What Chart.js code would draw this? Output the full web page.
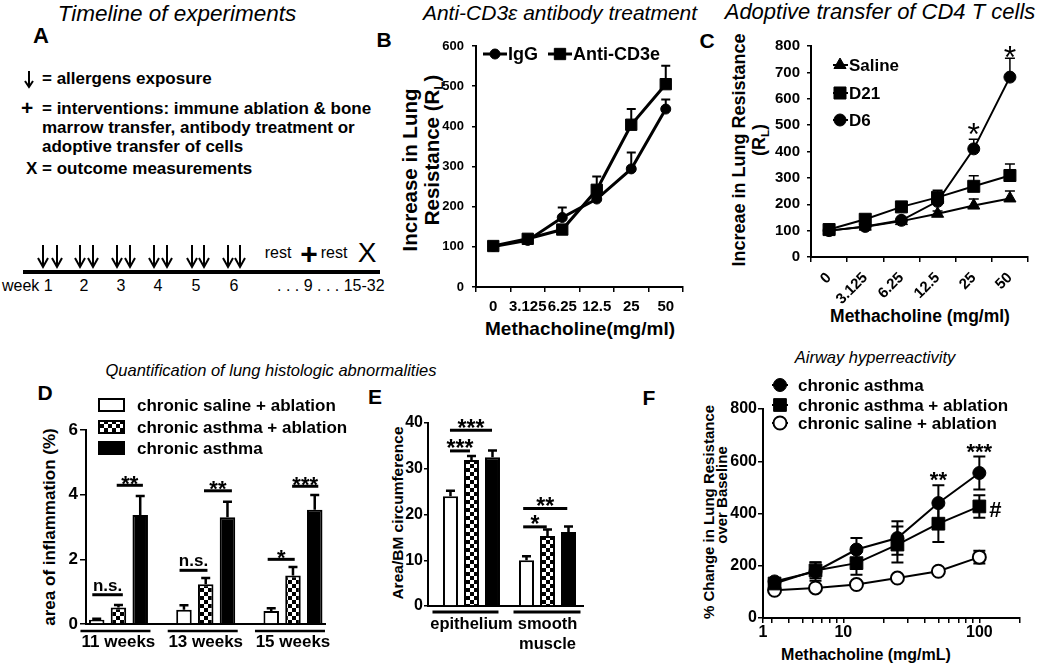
<!DOCTYPE html>
<html><head><meta charset="utf-8">
<script src="https://cdn.jsdelivr.net/npm/chart.js@4.4.1/dist/chart.umd.min.js"></script>
<style>
body{margin:0;background:#fff;width:1050px;height:664px;position:relative;overflow:hidden;font-family:'Liberation Sans',Arial,sans-serif;color:#000}
canvas{position:absolute}
.t{position:absolute;white-space:nowrap;line-height:1}
.c{transform:translate(-50%,-50%)}
.l{transform:translate(0,-50%)}
.v{transform:translate(-50%,-50%) rotate(-90deg)}
.b{font-weight:bold}
.i{font-style:italic}
.sub{font-size:.65em;position:relative;top:.3em}
</style></head><body>

<!-- titles -->
<div class="t c i" style="left:177px;top:14px;font-size:22.5px">Timeline of experiments</div>
<div class="t c i" style="left:560px;top:12px;font-size:21px">Anti-CD3ε antibody treatment</div>
<div class="t c i" style="left:880px;top:12px;font-size:22px">Adoptive transfer of CD4 T cells</div>
<div class="t c i" style="left:271px;top:370px;font-size:16.5px">Quantification of lung histologic abnormalities</div>
<div class="t c i" style="left:875px;top:357px;font-size:16.5px">Airway hyperreactivity</div>

<!-- panel letters -->
<div class="t c b" style="left:41px;top:36px;font-size:22px">A</div>
<div class="t c b" style="left:384px;top:39px;font-size:21px">B</div>
<div class="t c b" style="left:707px;top:40px;font-size:21px">C</div>
<div class="t c b" style="left:45px;top:392px;font-size:21px">D</div>
<div class="t c b" style="left:375px;top:396px;font-size:21px">E</div>
<div class="t c b" style="left:649px;top:397px;font-size:21px">F</div>

<!-- panel A -->
<svg style="position:absolute;left:0;top:0" width="400" height="300">
  <g stroke="#000" stroke-width="2" fill="none">
    <path d="M29 71 V87 M25 81 L29 87 L33 81"/>
    <path d="M43 245 V267 M38 258 L43 267 L48 258"/><path d="M57 245 V267 M52 258 L57 267 L62 258"/>
    <path d="M80 245 V267 M75 258 L80 267 L85 258"/><path d="M93 245 V267 M88 258 L93 267 L98 258"/>
    <path d="M117 245 V267 M112 258 L117 267 L122 258"/><path d="M130 245 V267 M125 258 L130 267 L135 258"/>
    <path d="M154 245 V267 M149 258 L154 267 L159 258"/><path d="M167 245 V267 M162 258 L167 267 L172 258"/>
    <path d="M192 245 V267 M187 258 L192 267 L197 258"/><path d="M204 245 V267 M199 258 L204 267 L209 258"/>
    <path d="M228 245 V267 M223 258 L228 267 L233 258"/><path d="M240 245 V267 M235 258 L240 267 L245 258"/>
  </g>
  <rect x="23" y="270" width="357" height="4" fill="#000"/>
</svg>
<div class="t l b" style="left:42px;top:78px;font-size:17px">= allergens exposure</div>
<div class="t l b" style="left:21px;top:107px;font-size:21px">+</div>
<div class="t l b" style="left:42px;top:108px;font-size:17px">= interventions: immune ablation &amp; bone</div>
<div class="t l b" style="left:42px;top:127px;font-size:17px">marrow transfer, antibody treatment or</div>
<div class="t l b" style="left:42px;top:146px;font-size:17px">adoptive transfer of cells</div>
<div class="t l b" style="left:26px;top:168px;font-size:17px">X = outcome measurements</div>
<div class="t c" style="left:278px;top:253px;font-size:16px">rest</div>
<div class="t c b" style="left:309px;top:254px;font-size:30px">+</div>
<div class="t c" style="left:334px;top:253px;font-size:16px">rest</div>
<div class="t c" style="left:367px;top:253px;font-size:28px">X</div>
<div class="t l" style="left:2px;top:286px;font-size:16px">week 1</div>
<div class="t c" style="left:84px;top:286px;font-size:16px">2</div>
<div class="t c" style="left:121px;top:286px;font-size:16px">3</div>
<div class="t c" style="left:158px;top:286px;font-size:16px">4</div>
<div class="t c" style="left:196px;top:286px;font-size:16px">5</div>
<div class="t c" style="left:234px;top:286px;font-size:16px">6</div>
<div class="t l" style="left:277px;top:286px;font-size:16px">. . . 9 . . . 15-32</div>

<!-- axis titles -->
<div class="t v b" style="left:410px;top:170px;font-size:20.5px">Increase in Lung</div>
<div class="t v b" style="left:432px;top:150px;font-size:20.5px">Resistance (R<span class="sub">L</span>)</div>
<div class="t c b" style="left:580px;top:328px;font-size:19px">Methacholine(mg/ml)</div>
<div class="t v b" style="left:739px;top:150px;font-size:18px">Increae in Lung Resistance</div>
<div class="t v b" style="left:759px;top:140px;font-size:18px">(R<span class="sub">L</span>)</div>
<div class="t c b" style="left:920px;top:317px;font-size:17.5px">Methacholine (mg/ml)</div>
<div class="t v b" style="left:49px;top:527px;font-size:17px">area of inflammation (%)</div>
<div class="t v b" style="left:398px;top:513px;font-size:15.5px">Area/BM circumference</div>
<div class="t v b" style="left:708px;top:512px;font-size:15px">% Change in Lung Resistance</div>
<div class="t v b" style="left:721px;top:495px;font-size:15px">over Baseline</div>
<div class="t c b" style="left:866px;top:655px;font-size:16px">Methacholine (mg/mL)</div>

<canvas id="cB" width="310" height="320" style="left:390px;top:30px"></canvas>
<canvas id="cC" width="350" height="320" style="left:700px;top:30px"></canvas>
<canvas id="cD" width="368" height="284" style="left:0px;top:380px"></canvas>
<canvas id="cE" width="240" height="284" style="left:370px;top:380px"></canvas>
<canvas id="cF" width="350" height="304" style="left:700px;top:360px"></canvas>

<script>
// ---------------- data ----------------
const bCats = ['0', '3.125', '6.25', '12.5', '25', '50'];
const bIgG = [101, 116, 173, 219, 294, 443];
const bIgGErr = [0, 0, 25, 0, 41, 24];
const bCD3 = [102, 120, 143, 242, 404, 505];
const bCD3Err = [0, 0, 0, 33, 39, 46];

const cCats = ['0', '3.125', '6.25', '12.5', '25', '50'];
const cSaline = [100, 115, 136, 164, 195, 222];
const cSalineErr = [0, 0, 6, 10, 25, 28];
const cD21 = [104, 143, 190, 226, 268, 309];
const cD21Err = [0, 0, 0, 27, 40, 44];
const cD6 = [100, 116, 139, 211, 410, 682];
const cD6Err = [0, 0, 0, 0, 36, 72];
const cStars = [{ x: 4, y: 493, text: '*' }, { x: 5, y: 785, text: '*' }];

const dCats = ['11 weeks', '13 weeks', '15 weeks'];
const dSalineAbl = [0.13, 0.44, 0.40];
const dSalineAblErr = [0.03, 0.14, 0.09];
const dAsthmaAbl = [0.51, 1.23, 1.50];
const dAsthmaAblErr = [0.08, 0.19, 0.26];
const dAsthma = [3.37, 3.30, 3.53];
const dAsthmaErr = [0.59, 0.48, 0.46];
const dSig = [
  { x1: -0.30, x2: 0.05, y: 0.905, text: 'n.s.' },
  { x1: -0.02, x2: 0.28, y: 4.29, text: '**' },
  { x1: 0.70, x2: 1.02, y: 1.66, text: 'n.s.' },
  { x1: 0.98, x2: 1.30, y: 4.12, text: '**' },
  { x1: 1.71, x2: 2.02, y: 2.0, text: '*' },
  { x1: 1.99, x2: 2.29, y: 4.26, text: '***' }
];

const eCats = ['epithelium', ['smooth', 'muscle']];
const eSalineAbl = [24.0, 10.0];
const eSalineAblErr = [1.2, 0.9];
const eAsthmaAbl = [31.9, 15.3];
const eAsthmaAblErr = [0.9, 1.4];
const eAsthma = [32.5, 16.2];
const eAsthmaErr = [1.5, 1.2];
const eSig = [
  { x1: -0.283, x2: 0.27, y: 38.4, text: '***' },
  { x1: -0.283, x2: -0.02, y: 33.9, text: '***' },
  { x1: 0.68, x2: 1.26, y: 21.3, text: '**' },
  { x1: 0.68, x2: 0.99, y: 17.3, text: '*' }
];

const fDoses = [3.125, 6.25, 12.5, 25, 50, 100];
const fAsthma = [140, 178, 262, 306, 440, 555];
const fAsthmaErr = [10, 35, 44, 64, 68, 63];
const fAsthmaAbl = [132, 182, 210, 281, 361, 427];
const fAsthmaAblErr = [8, 30, 44, 69, 70, 43];
const fSalineAbl = [106, 115, 128, 153, 179, 233];
const fSalineAblErr = [5, 8, 8, 8, 8, 24];
const fMin = 2.57, fMax = 199;
const fTickValues = [3, 4, 5, 6, 7, 8, 9, 10, 20, 30, 40, 50, 60, 70, 80, 90, 100];
const fTickLabels = ['1', '10', '100'];
const fLabelAt = [fMin, 10, 100];
const fMarks = [{ x: 50, y: 551, text: '**' }, { x: 100, y: 655, text: '***' }, { x: 131, y: 417, text: '#' }];

// ---------------- setup ----------------
const FONT = "'Liberation Sans', Arial, sans-serif";
Chart.defaults.font.family = FONT;
Chart.defaults.font.weight = 'bold';
Chart.defaults.color = '#000';

const checker = (() => {
  const c = document.createElement('canvas'); c.width = 8; c.height = 8;
  const g = c.getContext('2d');
  g.fillStyle = '#fff'; g.fillRect(0, 0, 8, 8);
  g.fillStyle = '#000'; g.fillRect(0, 0, 4, 4); g.fillRect(4, 4, 4, 4);
  return g.createPattern(c, 'repeat');
})();

const errorBars = {
  id: 'errorBars',
  beforeDatasetsDraw(chart, args, o) {
    const ctx = chart.ctx, ys = chart.scales.y;
    ctx.save();
    ctx.strokeStyle = '#000';
    ctx.lineWidth = o.lineWidth || 2;
    chart.data.datasets.forEach((ds, i) => {
      if (!ds.errUp) return;
      const meta = chart.getDatasetMeta(i);
      meta.data.forEach((el, j) => {
        const v = meta.controller.getParsed(j).y;
        const up = ds.errUp[j] || 0;
        const dn = ds.errBoth ? up : 0;
        if (!up) return;
        const x = el.x, h = o.cap / 2;
        const yT = ys.getPixelForValue(v + up), yB = ys.getPixelForValue(v - dn);
        ctx.beginPath();
        ctx.moveTo(x, yB); ctx.lineTo(x, yT);
        ctx.moveTo(x - h, yT); ctx.lineTo(x + h, yT);
        if (dn) { ctx.moveTo(x - h, yB); ctx.lineTo(x + h, yB); }
        ctx.stroke();
      });
    });
    ctx.restore();
  }
};

function textBase(t, py, size) {
  if (t[0] === '*') return py + 0.57 * size;
  return py + 0.36 * size;
}

const annot = {
  id: 'annot',
  afterDatasetsDraw(chart, args, o) {
    const ctx = chart.ctx, xs = chart.scales.x, ys = chart.scales.y;
    ctx.save();
    ctx.fillStyle = '#000'; ctx.strokeStyle = '#000';
    ctx.textAlign = 'center'; ctx.textBaseline = 'alphabetic';
    (o.lines || []).forEach(l => {
      const x1 = xs.getPixelForValue(l.x1), x2 = xs.getPixelForValue(l.x2), y = ys.getPixelForValue(l.y);
      ctx.lineWidth = o.lineWidth;
      ctx.beginPath(); ctx.moveTo(x1, y); ctx.lineTo(x2, y); ctx.stroke();
      const star = l.text[0] === '*';
      ctx.font = `bold ${star ? o.starSize : o.textSize}px ${FONT}`;
      ctx.fillText(l.text, (x1 + x2) / 2, star ? y + o.starSize * 0.24 : y - 4);
    });
    (o.marks || []).forEach(m => {
      ctx.font = `${o.markWeight || 'bold'} ${o.markSize}px ${FONT}`;
      const px = xs.getPixelForValue(m.x), py = ys.getPixelForValue(m.y);
      ctx.fillText(m.text, px, textBase(m.text, py, o.markSize));
    });
    if (o.brackets) {
      ctx.lineWidth = o.brackets.w;
      const y = chart.chartArea.bottom + o.brackets.dy;
      xs.ticks.forEach((tk, i) => {
        const px = xs.getPixelForValue(tk.value);
        ctx.beginPath(); ctx.moveTo(px + o.brackets.l[i], y); ctx.lineTo(px + o.brackets.r[i], y); ctx.stroke();
      });
    }
    ctx.restore();
  }
};

const customLegend = {
  id: 'customLegend',
  afterDraw(chart, args, o) {
    if (!o.items) return;
    const ctx = chart.ctx;
    ctx.save();
    ctx.font = `bold ${o.size}px ${FONT}`;
    ctx.textBaseline = 'middle'; ctx.textAlign = 'left';
    o.items.forEach(it => {
      const ds = chart.data.datasets[it.ds];
      if (o.kind === 'line') {
        ctx.strokeStyle = '#000'; ctx.lineWidth = ds.borderWidth;
        ctx.beginPath(); ctx.moveTo(it.x + o.l1, it.y); ctx.lineTo(it.x + o.l2, it.y); ctx.stroke();
        ctx.fillStyle = ds.pointBackgroundColor; ctx.strokeStyle = ds.pointBorderColor; ctx.lineWidth = ds.pointBorderWidth;
        Chart.helpers.drawPoint(ctx, { pointStyle: ds.pointStyle, radius: ds.pointRadius, rotation: 0, borderWidth: ds.pointBorderWidth }, it.x, it.y);
        ctx.fillStyle = '#000';
        ctx.fillText(ds.label, it.x + o.tx, it.y + 1);
      } else {
        ctx.fillStyle = ds.backgroundColor;
        ctx.fillRect(it.x, it.y - o.bh / 2, o.bw, o.bh);
        ctx.strokeStyle = '#000'; ctx.lineWidth = 2;
        ctx.strokeRect(it.x, it.y - o.bh / 2, o.bw, o.bh);
        ctx.fillStyle = '#000';
        ctx.fillText(ds.label, it.x + o.tx, it.y + 1);
      }
    });
    ctx.restore();
  }
};

function yAxis(o) {
  return {
    type: 'linear', min: o.min, max: o.max,
    ticks: { stepSize: o.step, font: { size: o.size, weight: 'bold' }, color: '#000', padding: o.pad },
    grid: { display: true, drawOnChartArea: false, drawTicks: true, tickLength: o.tl, color: '#000', lineWidth: 1.5 },
    border: { display: true, color: '#000', width: 2 },
    afterFit: s => { s.width = o.w; }
  };
}
function catX(o) {
  return {
    type: 'category', offset: true,
    ticks: { font: { size: o.size, weight: 'bold' }, color: '#000', padding: o.pad, autoSkip: false, maxRotation: o.rot, minRotation: o.rot },
    grid: { display: true, drawOnChartArea: false, drawTicks: true, tickLength: 5, offset: true, color: '#000', lineWidth: 1.5 },
    border: { display: true, color: '#000', width: 2 },
    afterFit: s => { s.height = o.h; }
  };
}
function groupX(o) {
  return {
    type: 'linear', offset: false, min: o.min, max: o.max,
    afterBuildTicks: s => { s.ticks = o.cats.map((c, i) => ({ value: i })); },
    ticks: { font: { size: o.size, weight: 'bold' }, color: '#000', padding: o.pad, autoSkip: false, maxRotation: 0, minRotation: 0,
      callback: v => o.cats[Math.round(v)] },
    grid: { display: false, drawTicks: false },
    border: { display: true, color: '#000', width: 2 },
    afterFit: s => { s.height = o.h; }
  };
}
function lineDs(label, data, err, style, r, width, fill) {
  return { label, data, errUp: err, borderColor: '#000', borderWidth: width, pointStyle: style, pointRadius: r,
    pointBackgroundColor: fill || '#000', pointBorderColor: '#000', pointBorderWidth: fill ? 2 : 1, tension: 0, clip: false };
}
function barDs(label, vals, err, bg) {
  return { label, data: vals.map((v, i) => ({ x: i, y: v })), errUp: err, backgroundColor: bg, borderColor: '#000', borderWidth: 2 };
}
const common = { responsive: false, animation: false, devicePixelRatio: 1, events: [] };
const noLegend = { legend: { display: false }, tooltip: { enabled: false } };

// ---------------- B ----------------
new Chart(document.getElementById('cB'), {
  type: 'line',
  data: { labels: bCats, datasets: [
    lineDs('IgG', bIgG, bIgGErr, 'circle', 5, 3),
    lineDs('Anti-CD3e', bCD3, bCD3Err, 'rect', 8, 3)
  ] },
  options: { ...common,
    layout: { padding: { left: 0, top: 16, right: 17, bottom: 0 } },
    scales: {
      x: catX({ size: 15, pad: 6, rot: 0, h: 63 }),
      y: yAxis({ min: 0, max: 600, step: 100, size: 13, pad: 8, tl: 4, w: 86 })
    },
    plugins: { ...noLegend,
      errorBars: { cap: 9, lineWidth: 2 },
      customLegend: { kind: 'line', size: 18, l1: -12, l2: 12, tx: 13,
        items: [{ ds: 0, x: 105, y: 24 }, { ds: 1, x: 170, y: 24 }] }
    }
  },
  plugins: [errorBars, customLegend]
});

// ---------------- C ----------------
new Chart(document.getElementById('cC'), {
  type: 'line',
  data: { labels: cCats, datasets: [
    lineDs('Saline', cSaline, cSalineErr, 'triangle', 7, 2),
    lineDs('D21', cD21, cD21Err, 'rect', 8.5, 2),
    lineDs('D6', cD6, cD6Err, 'circle', 6, 2)
  ] },
  options: { ...common,
    layout: { padding: { left: 0, top: 13, right: 22, bottom: 0 } },
    scales: {
      x: catX({ size: 15, pad: 7, rot: 45, h: 93 }),
      y: yAxis({ min: 0, max: 800, step: 100, size: 15, pad: 7, tl: 4, w: 111 })
    },
    plugins: { ...noLegend,
      errorBars: { cap: 10, lineWidth: 1.5 },
      annot: { marks: cStars, markSize: 32, markWeight: 'normal' },
      customLegend: { kind: 'line', size: 17, l1: -7, l2: 8, tx: 9,
        items: [{ ds: 0, x: 140, y: 35 }, { ds: 1, x: 140, y: 63 }, { ds: 2, x: 140, y: 90 }] }
    }
  },
  plugins: [errorBars, annot, customLegend]
});

// ---------------- D ----------------
new Chart(document.getElementById('cD'), {
  type: 'bar',
  data: { datasets: [
    barDs('chronic saline + ablation', dSalineAbl, dSalineAblErr, '#fff'),
    barDs('chronic asthma + ablation', dAsthmaAbl, dAsthmaAblErr, checker),
    barDs('chronic asthma', dAsthma, dAsthmaErr, '#000')
  ] },
  options: { ...common,
    categoryPercentage: 0.748, barPercentage: 0.713,
    layout: { padding: { left: 0, top: 50, right: 43, bottom: 0 } },
    scales: {
      x: groupX({ min: -0.372, max: 2.367, cats: dCats, size: 17, pad: 8, h: 40 }),
      y: yAxis({ min: 0, max: 6, step: 2, size: 17, pad: 2, tl: 6, w: 86 })
    },
    plugins: { ...noLegend,
      errorBars: { cap: 9, lineWidth: 2.5 },
      annot: { lines: dSig, lineWidth: 3, textSize: 17, starSize: 22,
        brackets: { dy: 7, w: 2.5, l: [-38, -38, -38], r: [32, 32, 32] } },
      customLegend: { kind: 'box', size: 17, bw: 25, bh: 12, tx: 38,
        items: [{ ds: 0, x: 99, y: 25 }, { ds: 1, x: 99, y: 47 }, { ds: 2, x: 99, y: 68 }] }
    }
  },
  plugins: [errorBars, annot, customLegend]
});

// ---------------- E ----------------
new Chart(document.getElementById('cE'), {
  type: 'bar',
  data: { datasets: [
    barDs('chronic saline + ablation', eSalineAbl, eSalineAblErr, '#fff'),
    barDs('chronic asthma + ablation', eAsthmaAbl, eAsthmaAblErr, checker),
    barDs('chronic asthma', eAsthma, eAsthmaErr, '#000')
  ] },
  options: { ...common,
    categoryPercentage: 0.829, barPercentage: 0.714,
    layout: { padding: { left: 0, top: 43, right: 27, bottom: 0 } },
    scales: {
      x: groupX({ min: -0.572, max: 1.467, cats: eCats, size: 16.5, pad: 9, h: 58 }),
      y: yAxis({ min: 0, max: 40, step: 10, size: 16, pad: 1, tl: 4, w: 58 })
    },
    plugins: { ...noLegend,
      errorBars: { cap: 9, lineWidth: 2.5 },
      annot: { lines: eSig, lineWidth: 3, textSize: 17, starSize: 23,
        brackets: { dy: 6, w: 3, l: [-39, -34], r: [27, 33] } }
    }
  },
  plugins: [errorBars, annot]
});

// ---------------- F ----------------
const fData = vals => fDoses.map((d, i) => ({ x: d, y: vals[i] }));
const fDs = [
  lineDs('chronic asthma', fData(fAsthma), fAsthmaErr, 'circle', 6.5, 2),
  lineDs('chronic asthma + ablation', fData(fAsthmaAbl), fAsthmaAblErr, 'rect', 9, 2),
  lineDs('chronic saline + ablation', fData(fSalineAbl), fSalineAblErr, 'circle', 6.5, 2, '#fff')
];
fDs.forEach(d => { d.errBoth = true; });
new Chart(document.getElementById('cF'), {
  type: 'line',
  data: { datasets: fDs },
  options: { ...common,
    layout: { padding: { left: 0, top: 49, right: 30, bottom: 0 } },
    scales: {
      x: {
        type: 'logarithmic', min: fMin, max: fMax,
        afterBuildTicks: s => { s.ticks = [fMin, ...fTickValues, fMax].map(v => ({ value: v })); },
        ticks: { font: { size: 16, weight: 'bold' }, color: '#000', padding: 0, autoSkip: false, maxRotation: 0, minRotation: 0,
          callback: v => { const k = fLabelAt.indexOf(v); return k >= 0 ? fTickLabels[k] : ''; } },
        grid: { display: true, drawOnChartArea: false, drawTicks: true, tickLength: 5, color: '#000', lineWidth: 1.5 },
        border: { display: true, color: '#000', width: 2 },
        afterFit: s => { s.height = 46; }
      },
      y: yAxis({ min: 0, max: 800, step: 200, size: 16, pad: 1, tl: 5, w: 63 })
    },
    plugins: { ...noLegend,
      errorBars: { cap: 12, lineWidth: 2 },
      annot: { marks: fMarks, markSize: 22 },
      customLegend: { kind: 'line', size: 17, l1: -8, l2: 8, tx: 18,
        items: [{ ds: 0, x: 80, y: 25 }, { ds: 1, x: 80, y: 45 }, { ds: 2, x: 80, y: 63 }] }
    }
  },
  plugins: [errorBars, annot, customLegend]
});
</script>
</body></html>
